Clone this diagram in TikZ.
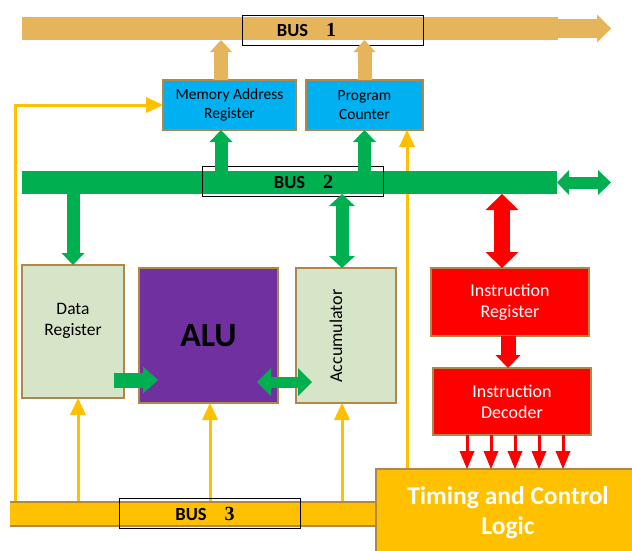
\documentclass[tikz,border=0pt]{standalone}
\usepackage{fontspec}
\setmainfont{Carlito}
\newfontfamily\numfont{Liberation Serif}
\usetikzlibrary{arrows.meta}

\definecolor{busone}{RGB}{230,180,90}
\definecolor{busgreen}{RGB}{0,176,80}
\definecolor{busyellow}{RGB}{255,192,0}
\definecolor{boxedge}{RGB}{175,135,75}
\definecolor{regblue}{RGB}{0,176,240}
\definecolor{alupurple}{RGB}{112,48,160}
\definecolor{reggreen}{RGB}{214,228,199}
\definecolor{ctrlred}{RGB}{255,0,0}

\newcommand{\bustext}[1]{%
  \fontsize{18.5}{20}\selectfont\bfseries BUS\hspace{18pt}{\numfont\fontsize{20}{20}\selectfont #1}}

\begin{document}
\begin{tikzpicture}[x=1pt, y=-1pt,
    reg/.style={draw=boxedge, line width=1.5pt, inner sep=0pt, outer sep=0pt, align=center},
    bar/.style={inner sep=0pt, outer sep=0pt},
    buslabel/.style={draw=black, line width=0.8pt, inner sep=0pt,
      minimum width=181pt, minimum height=30pt},
    fattan/.style={draw=busone, line width=14pt,
      -{Triangle[length=12pt, width=22pt, line width=0pt]}},
    fatgreen/.style={draw=busgreen, line width=13pt,
      -{Triangle[length=12pt, width=23pt, line width=0pt]}},
    twogreen/.style={draw=busgreen, line width=13pt,
      {Triangle[length=12pt, width=26pt, line width=0pt]}-{Triangle[length=12pt, width=26pt, line width=0pt]}},
    fatred/.style={draw=ctrlred, line width=15pt,
      -{Triangle[length=13pt, width=25pt, line width=0pt]}},
    twored/.style={draw=ctrlred, line width=16pt,
      {Triangle[length=16pt, width=33pt, line width=0pt]}-{Triangle[length=16pt, width=33pt, line width=0pt]}},
    ylink/.style={draw=busyellow, line width=3pt,
      -{Triangle[length=17pt, width=16pt, line width=0pt]}},
    redlink/.style={draw=ctrlred, line width=3pt,
      -{Triangle[length=18pt, width=15pt, line width=0pt]}}]

    \useasboundingbox (0,0) rectangle (632,550);
    \clip (0,0) rectangle (632,550);

    % Buses
    \node[bar, fill=busone, minimum width=536pt, minimum height=23pt] (bus1) at (290,28.5) {};
    \node[bar, fill=busgreen, minimum width=535pt, minimum height=23pt] (bus2) at (289.5,182.5) {};
    \node[bar, fill=busyellow, minimum width=366pt, minimum height=24pt] (bus3) at (193,514) {};
    \coordinate (ext1) at (611,28.5);
    \coordinate (ext2) at (611,182.5);

    % Registers and units
    \node[reg, fill=regblue, minimum width=133pt, minimum height=50pt,
      font=\fontsize{15.5}{19}\selectfont] (mar) at (229.5,105) {Memory Address\\Register};
    \node[reg, fill=regblue, minimum width=117pt, minimum height=50pt,
      font=\fontsize{15.5}{19}\selectfont] (pc) at (364.5,105) {Program\\Counter};
    \node[reg, fill=reggreen, minimum width=102pt, minimum height=133pt] (dr) at (73,331.5) {};
    \node[font=\fontsize{17.5}{21}\selectfont, align=center] (drtxt) at (73,321) {Data\\Register};
    \node[reg, fill=alupurple, minimum width=139pt, minimum height=135pt,
      font=\fontsize{34}{40}\selectfont\bfseries] (alu) at (208.5,335.5) {ALU};
    \node[reg, fill=reggreen, minimum width=100pt, minimum height=135pt] (acc) at (346,335.5) {};
    \node[rotate=90, font=\fontsize{18}{20}\selectfont] (acctxt) at (336,336) {Accumulator};
    \node[reg, fill=ctrlred, text=white, minimum width=158pt, minimum height=68pt,
      font=\fontsize{18}{21}\selectfont] (ir) at (510,302) {Instruction\\Register};
    \node[reg, fill=ctrlred, text=white, minimum width=158pt, minimum height=67pt,
      font=\fontsize{18}{21}\selectfont] (id) at (512,401.5) {Instruction\\Decoder};

    % Control lines (behind the buses)
    \coordinate (pcin) at ([xshift=-16pt]pc.south east);
    \coordinate (drin) at ([xshift=5pt]dr.south);
    \coordinate (aluin) at ([xshift=1.5pt]alu.south);
    \coordinate (accin) at ([xshift=-4pt]acc.south);
    \draw[ylink] ([xshift=5pt]bus3.south west) |- (mar.west);
    \draw[ylink] (pcin |- 0,469) -- (pcin);
    \foreach \c in {drin, aluin, accin}
      \draw[ylink] (\c |- bus3.north) -- (\c);

    % Bus edges drawn again over the lines
    \fill[busgreen] (bus2.north west) rectangle (bus2.south east);
    \draw[boxedge, line width=1.5pt]
      (bus3.north west) -- (bus3.north east)
      (bus3.south west) -- (bus3.south east);

    % Timing and control
    \node[reg, fill=busyellow, text=white, minimum width=264pt, minimum height=87pt,
      font=\fontsize{25.5}{30}\selectfont\bfseries] (tcl) at (508,512.5) {Timing and Control\\Logic};
    \foreach \i in {0,...,4} {
      \coordinate (dec\i) at ([xshift={-45pt+24pt*\i}]id.south);
      \draw[redlink] (dec\i) -- (dec\i |- tcl.north);
    }

    % Bus labels
    \node[buslabel] (lab1) at (332.5,30) {};
    \node (txt1) at (306.5,30) {\bustext{1}};
    \node[buslabel] (lab2) at (293,181) {};
    \node (txt2) at (303.5,182) {\bustext{2}};
    \node[buslabel] (lab3) at (209.5,513) {};
    \node (txt3) at (205,514) {\bustext{3}};

    % Tan arrows into bus 1
    \coordinate (marup) at ([xshift=-8.5pt]mar.north);
    \draw[fattan] (marup) -- (marup |- bus1.south);
    \draw[fattan] (pc.north) -- (pc.north |- bus1.south);
    \draw[draw=busone, line width=19pt,
      -{Triangle[length=14pt, width=28pt, line width=0pt]}] (bus1.east) -- (ext1);

    % Green arrows on bus 2
    \coordinate (mardown) at ([xshift=-8.5pt]mar.south);
    \coordinate (accup) at ([xshift=-4pt]acc.north);
    \draw[fatgreen] (mardown |- bus2.north) -- (mardown);
    \draw[fatgreen] (pc.south |- bus2.north) -- (pc.south);
    \draw[fatgreen] (dr.north |- bus2.south) -- (dr.north);
    \draw[twogreen] (accup |- bus2.south) -- (accup);
    \draw[draw=busgreen, line width=12pt,
      {Triangle[length=12pt, width=25pt, line width=0pt]}-{Triangle[length=13pt, width=25pt, line width=0pt]}]
      (bus2.east) -- (ext2);

    % Data paths between the units
    \coordinate (drout) at ([xshift=-10pt, yshift=-48.5pt]dr.east);
    \path (drout -| alu.west) ++(19,0) coordinate (aluleft);
    \draw[draw=busgreen, line width=15pt,
      -{Triangle[length=15pt, width=27pt, line width=0pt]}] (drout) -- (aluleft);
    \coordinate (aluright) at ([xshift=-21pt, yshift=-46.5pt]alu.east);
    \coordinate (accleft) at ([xshift=16pt, yshift=-46.5pt]acc.west);
    \draw[draw=busgreen, line width=11pt,
      {Triangle[length=14pt, width=28pt, line width=0pt]}-{Triangle[length=14pt, width=28pt, line width=0pt]}]
      (aluright) -- (accleft);

    % Red arrows
    \coordinate (irup) at ([xshift=-8pt]ir.north);
    \coordinate (irdown) at ([xshift=-2pt]ir.south);
    \draw[twored] (irup |- bus2.south) -- (irup);
    \draw[fatred] (irdown) -- (irdown |- id.north);
\end{tikzpicture}
\end{document}
